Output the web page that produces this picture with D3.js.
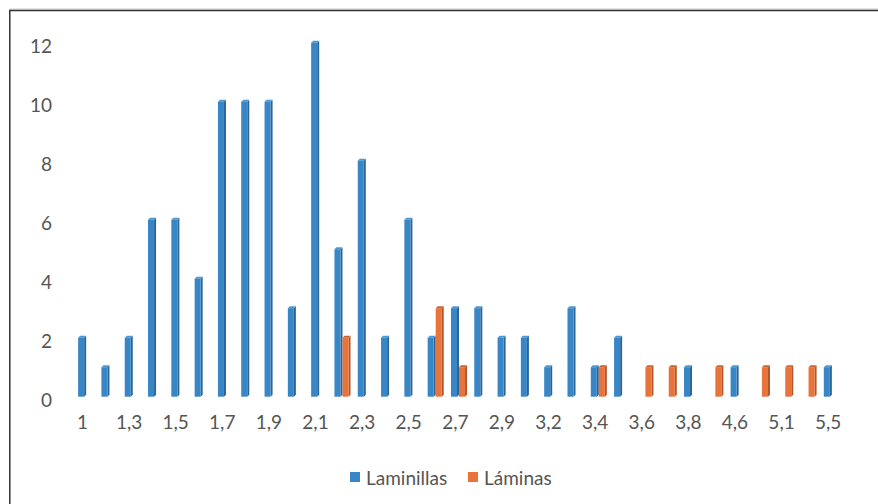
<!DOCTYPE html>
<html>
<head>
<meta charset="utf-8">
<script src="https://cdn.jsdelivr.net/npm/d3@7"></script>
<style>
  html, body { margin: 0; padding: 0; background: #fff; }
  svg text { font-family: Lato, "Open Sans", sans-serif; fill: #555; }
</style>
</head>
<body>
<div id="chart"></div>
<script>
// categories (thickness values), only every other one gets a label
var categories = ["1", "1.2", "1.3", "1.4", "1.5", "1.6", "1.7", "1.8", "1.9", "2",
    "2.1", "2.2", "2.3", "2.4", "2.5", "2.6", "2.7", "2.8", "2.9", "3",
    "3.2", "3.3", "3.4", "3.5", "3.6", "3.7", "3.8", "4", "4.6", "4.8",
    "5.1", "5.3", "5.5"];
var laminillas = [2, 1, 2, 6, 6, 4, 10, 10, 10, 3,
    12, 5, 8, 2, 6, 2, 3, 3, 2, 2,
    1, 3, 1, 2, 0, 0, 1, 0, 1, 0,
    0, 0, 1];
var laminas = [0, 0, 0, 0, 0, 0, 0, 0, 0, 0,
    0, 2, 0, 0, 0, 3, 1, 0, 0, 0,
    0, 0, 1, 0, 1, 1, 0, 1, 0, 1,
    1, 1, 0];
var seriesNames = ["Laminillas", "Láminas"];
var yTicks = [0, 2, 4, 6, 8, 10, 12];

var COLORS = {
    "Laminillas": { front: "#3886C6", side: "#2A6597", top: "#4F97D0" },
    "Láminas": { front: "#E8743B", side: "#B3552A", top: "#C8622F" }
};

const width = 878;
const height = 504;
const depth = 2;   //fake 3d side thickness
const fontSize = 19;

const svg = d3.select("#chart")
    .append("svg")
    .attr("width", width)
    .attr("height", height);

//frame: only top and left edges are visible
svg.append("path")
    .attr("d", "M9.5,9 H878")
    .attr("stroke", "#c8c8c8").attr("stroke-width", 1).attr("fill", "none");
svg.append("path")
    .attr("d", "M9.8,504 V10.5 H878")
    .attr("stroke", "#333").attr("stroke-width", 1.5).attr("fill", "none");

//scales
const x = d3.scaleBand()
    .domain(categories)
    .range([74.5, 843.5])
    .padding(0);

const xSub = d3.scaleBand()
    .domain(seriesNames)
    .range([0, x.bandwidth()])
    .paddingInner(0)
    .paddingOuter(0.45);

const y = d3.scaleLinear()
    .domain([0, 12])
    .range([396.7, 42.7]);

//build bar records
var bars = [];
seriesNames.forEach((name) => {
    const vals = name === "Laminillas" ? laminillas : laminas;
    vals.forEach((v, i) => {
        if(v > 0){
            bars.push({ series: name, cat: categories[i], value: v });
        }
    });
});

const g = svg.append("g");

const barG = g.selectAll("g.bar")
    .data(bars)
    .join("g")
    .attr("class", "bar");

const fw = xSub.bandwidth() - depth;

//side face
barG.append("path")
    .attr("d", d => {
        const x0 = x(d.cat) + xSub(d.series) + fw;
        const yt = y(d.value), yb = y(0);
        return `M${x0},${yt} L${x0 + depth},${yt - depth} L${x0 + depth},${yb - depth} L${x0},${yb} Z`;
    })
    .attr("fill", d => COLORS[d.series].side);

//top face
barG.append("path")
    .attr("d", d => {
        const x0 = x(d.cat) + xSub(d.series);
        const yt = y(d.value);
        return `M${x0},${yt} L${x0 + depth},${yt - depth} L${x0 + fw + depth},${yt - depth} L${x0 + fw},${yt} Z`;
    })
    .attr("fill", d => COLORS[d.series].top);

//front face
barG.append("rect")
    .attr("x", d => x(d.cat) + xSub(d.series))
    .attr("y", d => y(d.value))
    .attr("width", fw)
    .attr("height", d => y(0) - y(d.value))
    .attr("fill", d => COLORS[d.series].front);

//axes
const xAxis = d3.axisBottom(x)
    .tickSize(0)
    .tickPadding(0)
    .tickFormat((d, i) => i % 2 === 0 ? d.replace(".", ",") : "");

svg.append("g")
    .attr("transform", "translate(-3.7, 415)")
    .call(xAxis)
    .call(a => a.select(".domain").remove())
    .selectAll("text")
    .attr("font-size", fontSize)
    .style("font-family", "Lato, 'Open Sans', sans-serif")
    .attr("fill", "#555");

const yAxis = d3.axisLeft(y)
    .tickValues(yTicks)
    .tickSize(0)
    .tickPadding(0);

svg.append("g")
    .attr("transform", "translate(52, 3.5)")
    .call(yAxis)
    .call(a => a.select(".domain").remove())
    .selectAll("text")
    .attr("font-size", fontSize)
    .style("font-family", "Lato, 'Open Sans', sans-serif")
    .attr("fill", "#555");

//legend
const legendItems = [
    { name: "Laminillas", x: 350 },
    { name: "Láminas", x: 468 }
];
const legend = svg.append("g");
legend.selectAll("rect")
    .data(legendItems)
    .join("rect")
    .attr("x", d => d.x)
    .attr("y", 472)
    .attr("width", 10)
    .attr("height", 10)
    .attr("fill", d => COLORS[d.name].front);
legend.selectAll("text")
    .data(legendItems)
    .join("text")
    .attr("x", d => d.x + 16)
    .attr("y", 485)
    .attr("font-size", fontSize)
    .text(d => d.name);
</script>
</body>
</html>
